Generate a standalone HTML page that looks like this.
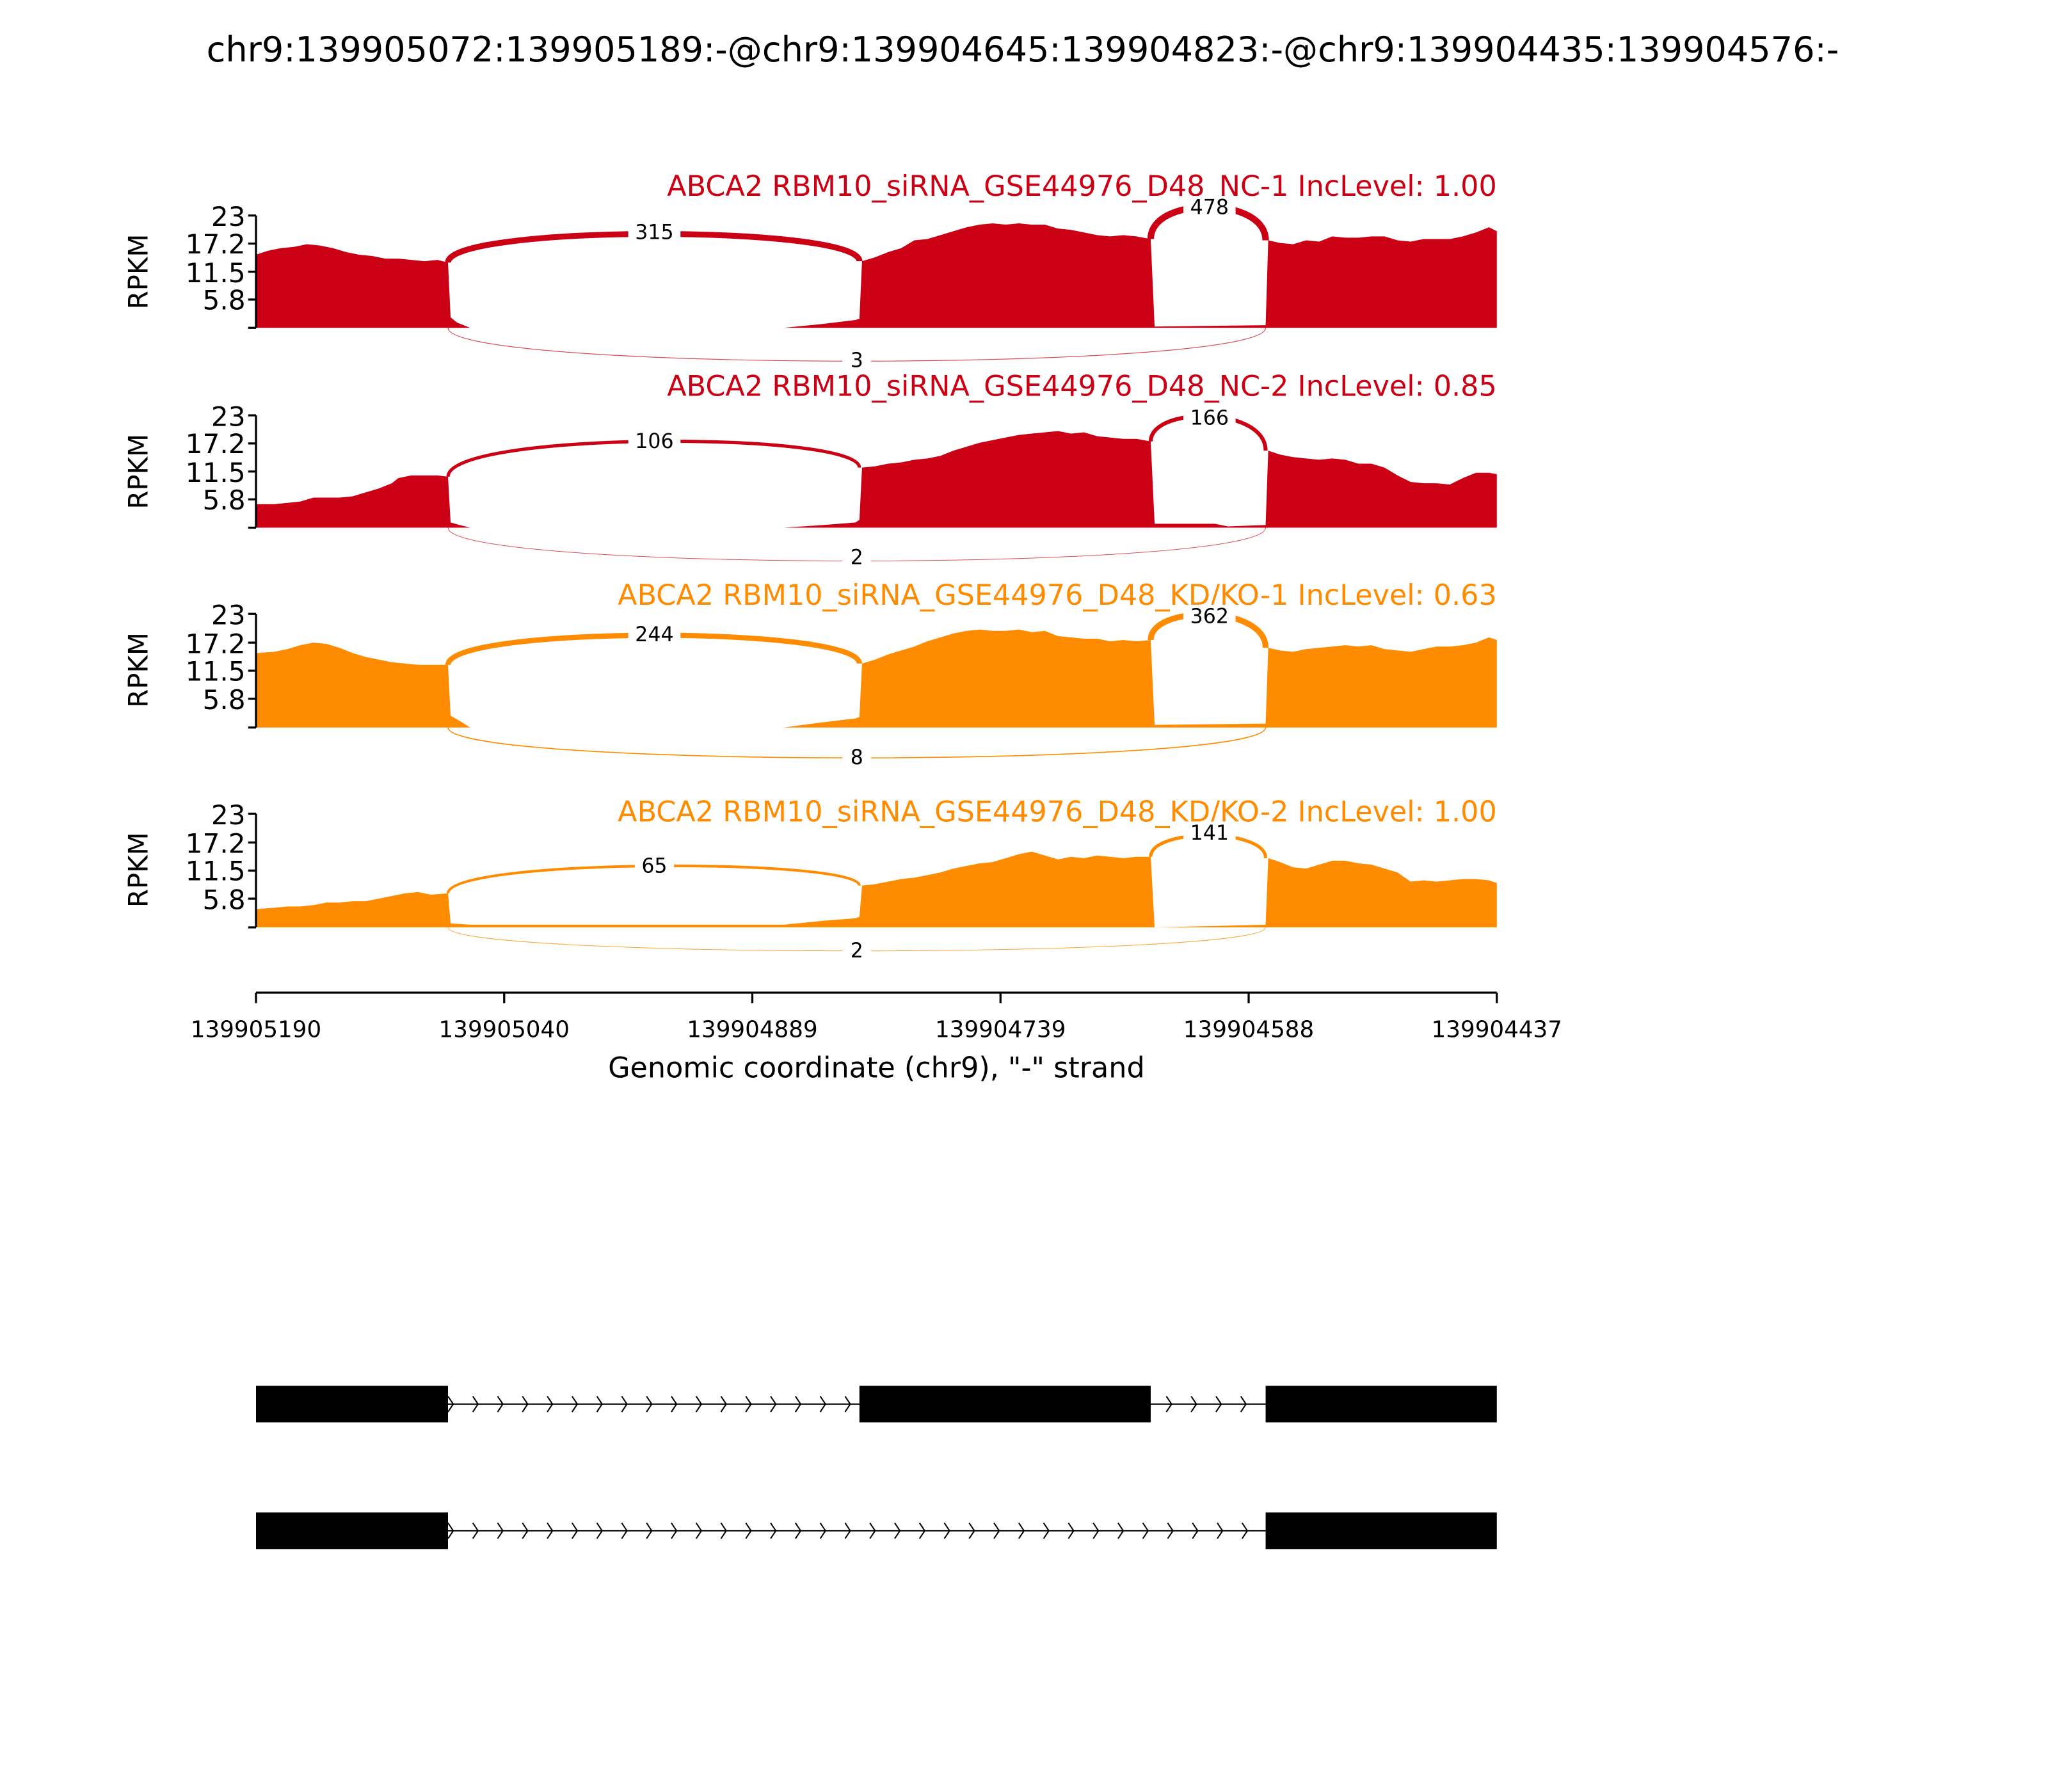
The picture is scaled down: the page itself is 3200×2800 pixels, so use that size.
<!DOCTYPE html>
<html><head><meta charset="utf-8"><style>
html,body{margin:0;padding:0;background:#fff;}
svg{display:block;}
text{font-family:"DejaVu Sans","Liberation Sans",sans-serif;}
</style></head><body>
<svg width="3200" height="2800" viewBox="0 0 1568 1372" xmlns="http://www.w3.org/2000/svg">
<rect width="1568" height="1372" fill="#fff"/>
<text x="783" y="47" font-size="26.5" text-anchor="middle">chr9:139905072:139905189:-@chr9:139904645:139904823:-@chr9:139904435:139904576:-</text>

<!-- Panel 1 -->
<g>
<text x="1146" y="150" font-size="21.8" text-anchor="end" fill="#cc0014">ABCA2 RBM10_siRNA_GSE44976_D48_NC-1 IncLevel: 1.00</text>
<path fill="#cc0014" d="M196,251 L196,195 L205,192 L215,190 L225,189 L235,187 L245,188 L255,190 L265,193 L275,195 L285,196 L295,198 L305,198 L315,199 L325,200 L335,199 L343,201 L345,243 L350,247 L360,251 L600,251 L630,248 L655,245 L658,244 L660,200 L670,197 L680,193 L690,190 L700,184 L710,183 L720,180 L730,177 L740,174 L750,172 L760,171 L770,172 L780,171 L790,172 L800,172 L810,175 L820,176 L830,178 L840,180 L850,181 L860,180 L870,181 L881,183 L884,250 L969,249 L971,184 L980,186 L990,187 L1000,184 L1010,185 L1020,181 L1030,182 L1040,182 L1050,181 L1060,181 L1070,184 L1080,185 L1090,183 L1100,183 L1110,183 L1120,181 L1130,178 L1140,174 L1146,177 L1146,251 Z"/>
<path d="M343,201 C343,172 658,172 658,200" fill="none" stroke="#cc0014" stroke-width="4.5"/>
<path d="M881,183 C881,150 969,150 969,184" fill="none" stroke="#cc0014" stroke-width="5"/>
<path d="M343,251 C343,285 969,285 969,251" fill="none" stroke="#cc0014" stroke-width="0.6" opacity="0.7"/>
<rect x="481" y="169" width="40" height="17" fill="#fff"/><text x="501" y="183" font-size="15.5" text-anchor="middle">315</text>
<rect x="906" y="150" width="40" height="17" fill="#fff"/><text x="926" y="164" font-size="15.5" text-anchor="middle">478</text>
<rect x="645" y="267" width="22" height="17" fill="#fff"/><text x="656" y="281" font-size="15.5" text-anchor="middle">3</text>
<path d="M196,165 L196,251 M190,165 L196,165 M190,186.5 L196,186.5 M190,208 L196,208 M190,229.3 L196,229.3 M190,251 L196,251" stroke="#000" stroke-width="1.6" fill="none"/>
<g font-size="20.7" text-anchor="end"><text x="188" y="173">23</text><text x="188" y="194">17.2</text><text x="188" y="216">11.5</text><text x="188" y="237">5.8</text></g>
<text transform="translate(113,208) rotate(-90)" font-size="20.5" text-anchor="middle">RPKM</text>
</g>

<!-- Panel 2 -->
<g>
<text x="1146" y="303" font-size="21.8" text-anchor="end" fill="#cc0014">ABCA2 RBM10_siRNA_GSE44976_D48_NC-2 IncLevel: 0.85</text>
<path fill="#cc0014" d="M196,404 L196,386 L210,386 L220,385 L230,384 L240,381 L250,381 L260,381 L270,380 L280,377 L290,374 L300,370 L305,366 L315,364 L325,364 L335,364 L343,365 L345,400 L352,402 L360,404 L600,404 L630,402 L655,400 L658,398 L660,358 L670,357 L680,355 L690,354 L700,352 L710,351 L720,349 L730,345 L740,342 L750,339 L760,337 L770,335 L780,333 L790,332 L800,331 L810,330 L820,332 L830,331 L840,334 L850,335 L860,336 L870,336 L881,338 L884,401 L930,401 L940,403 L969,402 L971,345 L980,348 L990,350 L1000,351 L1010,352 L1020,351 L1030,352 L1040,355 L1050,355 L1060,358 L1070,364 L1080,369 L1090,370 L1100,370 L1110,371 L1120,366 L1130,362 L1140,362 L1146,363 L1146,404 Z"/>
<path d="M343,365 C343,330 658,330 658,358" fill="none" stroke="#cc0014" stroke-width="2.5"/>
<path d="M881,338 C881,311 969,311 969,345" fill="none" stroke="#cc0014" stroke-width="3"/>
<path d="M343,404 C343,438 969,438 969,404" fill="none" stroke="#cc0014" stroke-width="0.5" opacity="0.7"/>
<rect x="481" y="329" width="40" height="17" fill="#fff"/><text x="501" y="343" font-size="15.5" text-anchor="middle">106</text>
<rect x="906" y="311" width="40" height="17" fill="#fff"/><text x="926" y="325" font-size="15.5" text-anchor="middle">166</text>
<rect x="645" y="418" width="22" height="17" fill="#fff"/><text x="656" y="432" font-size="15.5" text-anchor="middle">2</text>
<path d="M196,318 L196,404 M190,318 L196,318 M190,339.5 L196,339.5 M190,361 L196,361 M190,382.3 L196,382.3 M190,404 L196,404" stroke="#000" stroke-width="1.6" fill="none"/>
<g font-size="20.7" text-anchor="end"><text x="188" y="326">23</text><text x="188" y="347">17.2</text><text x="188" y="369">11.5</text><text x="188" y="390">5.8</text></g>
<text transform="translate(113,361) rotate(-90)" font-size="20.5" text-anchor="middle">RPKM</text>
</g>

<!-- Panel 3 -->
<g>
<text x="1146" y="463" font-size="21.8" text-anchor="end" fill="#ff8c00">ABCA2 RBM10_siRNA_GSE44976_D48_KD/KO-1 IncLevel: 0.63</text>
<path fill="#ff8c00" d="M196,557 L196,500 L210,499 L220,497 L230,494 L240,492 L250,493 L260,496 L270,500 L280,503 L290,505 L300,507 L310,508 L320,509 L335,509 L343,509 L345,548 L352,552 L360,557 L600,557 L630,553 L655,550 L658,549 L660,508 L670,505 L680,501 L690,498 L700,495 L710,491 L720,488 L730,485 L740,483 L750,482 L760,483 L770,483 L780,482 L790,484 L800,483 L810,487 L820,488 L830,489 L840,489 L850,491 L860,490 L870,491 L881,490 L884,555 L969,554 L971,496 L980,498 L990,499 L1000,497 L1010,496 L1020,495 L1030,494 L1040,495 L1050,494 L1060,497 L1070,498 L1080,499 L1090,497 L1100,495 L1110,495 L1120,494 L1130,492 L1140,488 L1146,490 L1146,557 Z"/>
<path d="M343,509 C343,479 658,479 658,508" fill="none" stroke="#ff8c00" stroke-width="4"/>
<path d="M881,490 C881,463 969,463 969,496" fill="none" stroke="#ff8c00" stroke-width="4.5"/>
<path d="M343,557 C343,588 969,588 969,557" fill="none" stroke="#ff8c00" stroke-width="0.8"/>
<rect x="481" y="477" width="40" height="17" fill="#fff"/><text x="501" y="491" font-size="15.5" text-anchor="middle">244</text>
<rect x="906" y="463" width="40" height="17" fill="#fff"/><text x="926" y="477" font-size="15.5" text-anchor="middle">362</text>
<rect x="645" y="571" width="22" height="17" fill="#fff"/><text x="656" y="585" font-size="15.5" text-anchor="middle">8</text>
<path d="M196,470 L196,557 M190,470 L196,470 M190,492 L196,492 M190,513.5 L196,513.5 M190,535 L196,535 M190,557 L196,557" stroke="#000" stroke-width="1.6" fill="none"/>
<g font-size="20.7" text-anchor="end"><text x="188" y="478">23</text><text x="188" y="500">17.2</text><text x="188" y="521">11.5</text><text x="188" y="543">5.8</text></g>
<text transform="translate(113,513) rotate(-90)" font-size="20.5" text-anchor="middle">RPKM</text>
</g>

<!-- Panel 4 -->
<g>
<text x="1146" y="629" font-size="21.8" text-anchor="end" fill="#ff8c00">ABCA2 RBM10_siRNA_GSE44976_D48_KD/KO-2 IncLevel: 1.00</text>
<path fill="#ff8c00" d="M196,710 L196,696 L210,695 L220,694 L230,694 L240,693 L250,691 L260,691 L270,690 L280,690 L290,688 L300,686 L310,684 L320,683 L330,685 L343,684 L345,707 L360,708 L600,708 L630,705 L655,703 L658,702 L660,678 L670,677 L680,675 L690,673 L700,672 L710,670 L720,668 L730,665 L740,663 L750,661 L760,660 L770,657 L780,654 L790,652 L800,655 L810,658 L820,656 L830,657 L840,655 L850,656 L860,657 L870,656 L881,656 L884,710 L969,708 L971,657 L980,660 L990,664 L1000,665 L1010,662 L1020,659 L1030,659 L1040,661 L1050,662 L1060,665 L1070,668 L1080,675 L1090,674 L1100,675 L1110,674 L1120,673 L1130,673 L1140,674 L1146,676 L1146,710 Z"/>
<path d="M343,684 C343,657 658,657 658,678" fill="none" stroke="#ff8c00" stroke-width="2"/>
<path d="M881,656 C881,634 969,634 969,657" fill="none" stroke="#ff8c00" stroke-width="2.5"/>
<path d="M343,710 C343,734 969,734 969,710" fill="none" stroke="#ff8c00" stroke-width="0.5" opacity="0.8"/>
<rect x="486" y="654" width="30" height="17" fill="#fff"/><text x="501" y="668" font-size="15.5" text-anchor="middle">65</text>
<rect x="906" y="629" width="40" height="17" fill="#fff"/><text x="926" y="643" font-size="15.5" text-anchor="middle">141</text>
<rect x="645" y="719" width="22" height="17" fill="#fff"/><text x="656" y="733" font-size="15.5" text-anchor="middle">2</text>
<path d="M196,623 L196,710 M190,623 L196,623 M190,645 L196,645 M190,666.5 L196,666.5 M190,688 L196,688 M190,710 L196,710" stroke="#000" stroke-width="1.6" fill="none"/>
<g font-size="20.7" text-anchor="end"><text x="188" y="631">23</text><text x="188" y="653">17.2</text><text x="188" y="674">11.5</text><text x="188" y="696">5.8</text></g>
<text transform="translate(113,666) rotate(-90)" font-size="20.5" text-anchor="middle">RPKM</text>
</g>

<!-- x axis -->
<path d="M196,760 L1146,760 M196,760 L196,768 M386,760 L386,768 M576,760 L576,768 M766,760 L766,768 M956,760 L956,768 M1146,760 L1146,768" stroke="#000" stroke-width="1.6" fill="none"/>
<g font-size="17.5" text-anchor="middle">
<text x="196" y="794">139905190</text><text x="386" y="794">139905040</text><text x="576" y="794">139904889</text><text x="766" y="794">139904739</text><text x="956" y="794">139904588</text><text x="1146" y="794">139904437</text>
</g>
<text x="671" y="825" font-size="21.8" text-anchor="middle">Genomic coordinate (chr9), "-" strand</text>

<!-- gene models -->
<g>
<line x1="343" y1="1075" x2="969" y2="1075" stroke="#000" stroke-width="1"/>
<rect x="196" y="1061" width="147" height="28" fill="#000"/>
<rect x="658" y="1061" width="223" height="28" fill="#000"/>
<rect x="969" y="1061" width="177" height="28" fill="#000"/>
<path fill="none" stroke="#000" stroke-width="1" d="M343,1069 L347,1075 L343,1081 M362,1069 L366,1075 L362,1081 M381,1069 L385,1075 L381,1081 M400,1069 L404,1075 L400,1081 M419,1069 L423,1075 L419,1081 M438,1069 L442,1075 L438,1081 M457,1069 L461,1075 L457,1081 M476,1069 L480,1075 L476,1081 M495,1069 L499,1075 L495,1081 M514,1069 L518,1075 L514,1081 M533,1069 L537,1075 L533,1081 M552,1069 L556,1075 L552,1081 M571,1069 L575,1075 L571,1081 M590,1069 L594,1075 L590,1081 M609,1069 L613,1075 L609,1081 M628,1069 L632,1075 L628,1081 M647,1069 L651,1075 L647,1081 M893,1069 L897,1075 L893,1081 M912,1069 L916,1075 L912,1081 M931,1069 L935,1075 L931,1081 M950,1069 L954,1075 L950,1081"/>
</g>
<g>
<line x1="343" y1="1172" x2="969" y2="1172" stroke="#000" stroke-width="1"/>
<rect x="196" y="1158" width="147" height="28" fill="#000"/>
<rect x="969" y="1158" width="177" height="28" fill="#000"/>
<path fill="none" stroke="#000" stroke-width="1" d="M343,1166 L347,1172 L343,1178 M362,1166 L366,1172 L362,1178 M381,1166 L385,1172 L381,1178 M400,1166 L404,1172 L400,1178 M419,1166 L423,1172 L419,1178 M438,1166 L442,1172 L438,1178 M457,1166 L461,1172 L457,1178 M476,1166 L480,1172 L476,1178 M495,1166 L499,1172 L495,1178 M514,1166 L518,1172 L514,1178 M533,1166 L537,1172 L533,1178 M552,1166 L556,1172 L552,1178 M571,1166 L575,1172 L571,1178 M590,1166 L594,1172 L590,1178 M609,1166 L613,1172 L609,1178 M628,1166 L632,1172 L628,1178 M647,1166 L651,1172 L647,1178 M666,1166 L670,1172 L666,1178 M685,1166 L689,1172 L685,1178 M704,1166 L708,1172 L704,1178 M723,1166 L727,1172 L723,1178 M742,1166 L746,1172 L742,1178 M761,1166 L765,1172 L761,1178 M780,1166 L784,1172 L780,1178 M799,1166 L803,1172 L799,1178 M818,1166 L822,1172 L818,1178 M837,1166 L841,1172 L837,1178 M856,1166 L860,1172 L856,1178 M875,1166 L879,1172 L875,1178 M894,1166 L898,1172 L894,1178 M913,1166 L917,1172 L913,1178 M932,1166 L936,1172 L932,1178 M951,1166 L955,1172 L951,1178"/>
</g>
</svg>
</body></html>
